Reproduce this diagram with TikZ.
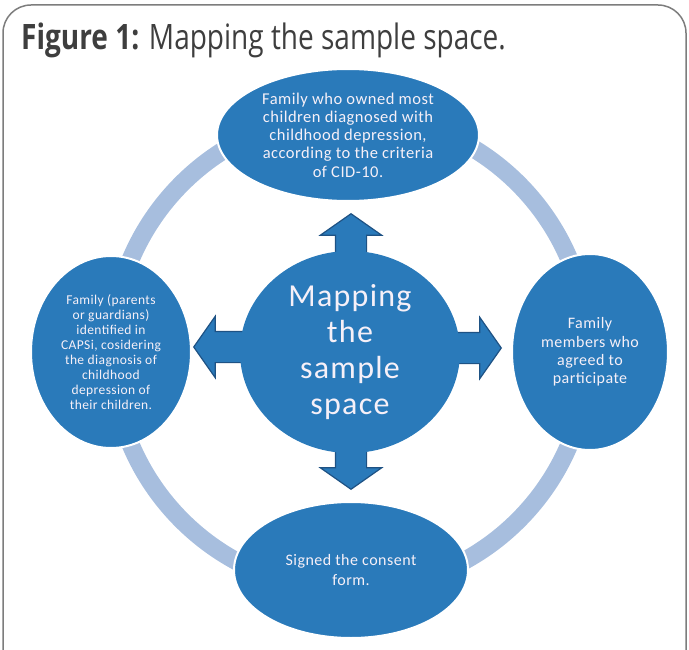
\documentclass[tikz,border=0pt]{standalone}
\usepackage{fontspec}
\setmainfont{Carlito}
\newfontfamily\titlefont{Open Sans}
\newfontfamily\ovalfont{Carlito}[LetterSpace=3]
\newfontfamily\bigfont{Carlito}[LetterSpace=4]
\usepackage{tikz}
\usetikzlibrary{shapes.geometric,shapes.arrows}
\definecolor{ovalblue}{RGB}{42,122,186}
\definecolor{ringblue}{RGB}{167,190,222}
\definecolor{arrowedge}{RGB}{30,82,132}
\definecolor{framegray}{RGB}{125,125,125}
\definecolor{titlegray}{RGB}{62,62,62}
\definecolor{paletext}{RGB}{246,240,248}

\begin{document}
\begin{tikzpicture}[x=1pt,y=-1pt,
	oval/.style={ellipse,fill=ovalblue,draw=white,line width=2pt,text=paletext,align=center,inner sep=0pt},
	blockarrow/.style={single arrow,fill=ovalblue,draw=arrowedge,line width=1.2pt,minimum height=58pt,minimum width=60pt,single arrow head extend=15pt,single arrow tip angle=110,inner xsep=0pt,inner ysep=15pt,anchor=tip}]
	\clip (0,0) rectangle (689,650);
	\draw[framegray,line width=1.5pt,rounded corners=28pt] (3,5) rectangle (686,690);
\node[anchor=base west,text=titlegray,font=\titlefont\fontsize{35}{40}\selectfont,inner sep=0pt] (title) at (21,50) {\scalebox{0.8}[1]{\textbf{Figure 1:} Mapping the sample space.}};

\coordinate (mid) at (350,352);
\draw[ringblue,line width=18pt] (mid) circle (238);

\node[blockarrow,rotate=90] (up) at (351,213) {};
\node[blockarrow,rotate=-90] (down) at (351,490) {};
\node[blockarrow,rotate=180] (left) at (193,347) {};
\node[blockarrow] (right) at (502,348) {};

\node[oval,draw=none,minimum width=220pt,minimum height=202pt,font=\bigfont\fontsize{32}{36}\selectfont] (map) at (mid) {Mapping\\the\\sample\\space};
\node[oval,minimum width=262pt,minimum height=132pt,font=\ovalfont\fontsize{16.5}{18.3}\selectfont] (top) at (348,135) {Family who owned most\\children diagnosed with\\childhood depression,\\according to the criteria\\of CID-10.};
\node[oval,minimum width=160pt,minimum height=192pt,font=\ovalfont\fontsize{13.5}{14.9}\selectfont] (fam) at (111,352) {Family (parents\\or guardians)\\identified in\\CAPSi, cosidering\\the diagnosis of\\childhood\\depression of\\their children.};
\node[oval,minimum width=156pt,minimum height=196pt,font=\ovalfont\fontsize{16}{18.3}\selectfont] (agree) at (590,352) {Family\\members who\\agreed to\\participate};
\node[oval,minimum width=234pt,minimum height=136pt,font=\ovalfont\fontsize{16}{20}\selectfont] (signed) at (351,570) {Signed the consent\\form.};

\end{tikzpicture}
\end{document}
